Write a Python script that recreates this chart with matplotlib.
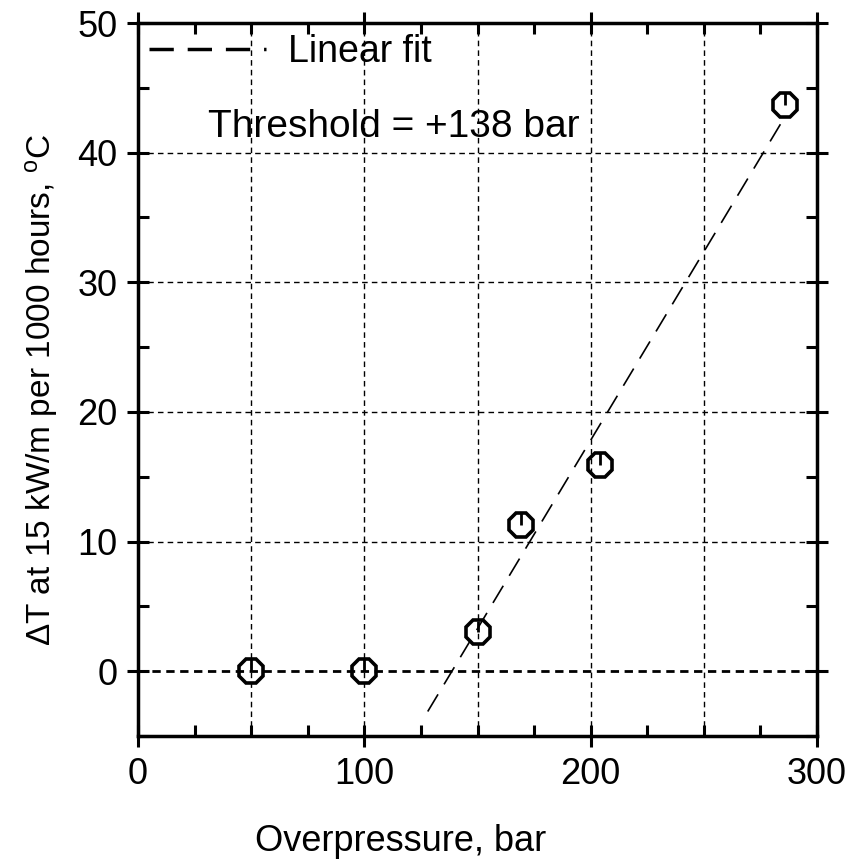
import numpy as np
import matplotlib
matplotlib.use('Agg')
import matplotlib.pyplot as plt
from matplotlib.ticker import MultipleLocator

# данные с картинки
pressure = [50, 100, 150, 169, 204, 286]
delta_t = [0.0, 0.0, 3.0, 11.3, 15.9, 43.7]
err_up = [0.9, 0.9, 0.9, 0.9, 0.9, 0.9]
fit_range = [128, 286]

plt.rcParams['font.family'] = ['Liberation Sans', 'DejaVu Sans']
plt.rcParams['mathtext.fontset'] = 'custom'
plt.rcParams['mathtext.rm'] = 'Liberation Sans'
plt.rcParams['mathtext.it'] = 'Liberation Sans'

fs = 27
fig = plt.figure(figsize=(8.5, 8.63), dpi=100)
ax = fig.add_axes([0.1624, 0.1472, 0.7988, 0.8261])

# сетка
for x in [50, 100, 150, 200, 250]:
    ax.axvline(x, color='k', lw=1.0, ls=(0, (4, 3)), zorder=1)
for y in [10, 20, 30, 40]:
    ax.axhline(y, color='k', lw=1.0, ls=(0, (4, 3)), zorder=1)
ax.axhline(0, color='k', lw=2.0, ls=(0, (3, 2)), zorder=1)

# линейная аппроксимация по точкам выше порога
xf = np.array(pressure[2:])
yf = np.array(delta_t[2:])
k, b = np.polyfit(xf, yf, 1)
fx = np.array(fit_range)
ax.plot(fx, k * fx + b, color='k', lw=1.2, ls=(0, (12, 7)), label='Linear fit', zorder=2)

ax.errorbar(pressure, delta_t, yerr=[np.zeros(len(err_up)), err_up], fmt='none',
            ecolor='k', elinewidth=2.0, capsize=0, zorder=3)
ax.plot(pressure, delta_t, ls='none', marker='8', ms=18, mfc='none', mec='k', mew=2.6, zorder=4)

ax.set_xlim(0, 300)
ax.set_ylim(-5, 50)
ax.xaxis.set_major_locator(MultipleLocator(100))
ax.xaxis.set_minor_locator(MultipleLocator(25))
ax.yaxis.set_major_locator(MultipleLocator(10))
ax.yaxis.set_minor_locator(MultipleLocator(5))
ax.tick_params(which='major', direction='inout', length=16, width=2.2, labelsize=26,
               top=True, right=True, pad=7)
ax.tick_params(which='minor', direction='in', length=8, width=2.2, top=True, right=True)
for s in ax.spines.values():
    s.set_linewidth(2.5)

ax.set_xlabel('Overpressure, bar', fontsize=26)
ax.xaxis.set_label_coords(0.387, -0.124)
ax.set_ylabel(r'$\Delta$T at 15 kW/m per 1000 hours, $^{\rm o}$C', fontsize=24)
ax.yaxis.set_label_coords(-0.115, 0.485)

ax.text(31, 42.0, 'Threshold = +138 bar', fontsize=28, va='center', ha='left')
leg = ax.legend(loc='upper left', frameon=False, fontsize=fs, handlelength=3.1,
                bbox_to_anchor=(0.0, 1.0), borderaxespad=0.0, borderpad=0.3,
                handletextpad=0.6)
for line in leg.get_lines():
    line.set_linewidth(2.5)
    line.set_dashes((7, 4))

plt.savefig('out.png', dpi=100)
